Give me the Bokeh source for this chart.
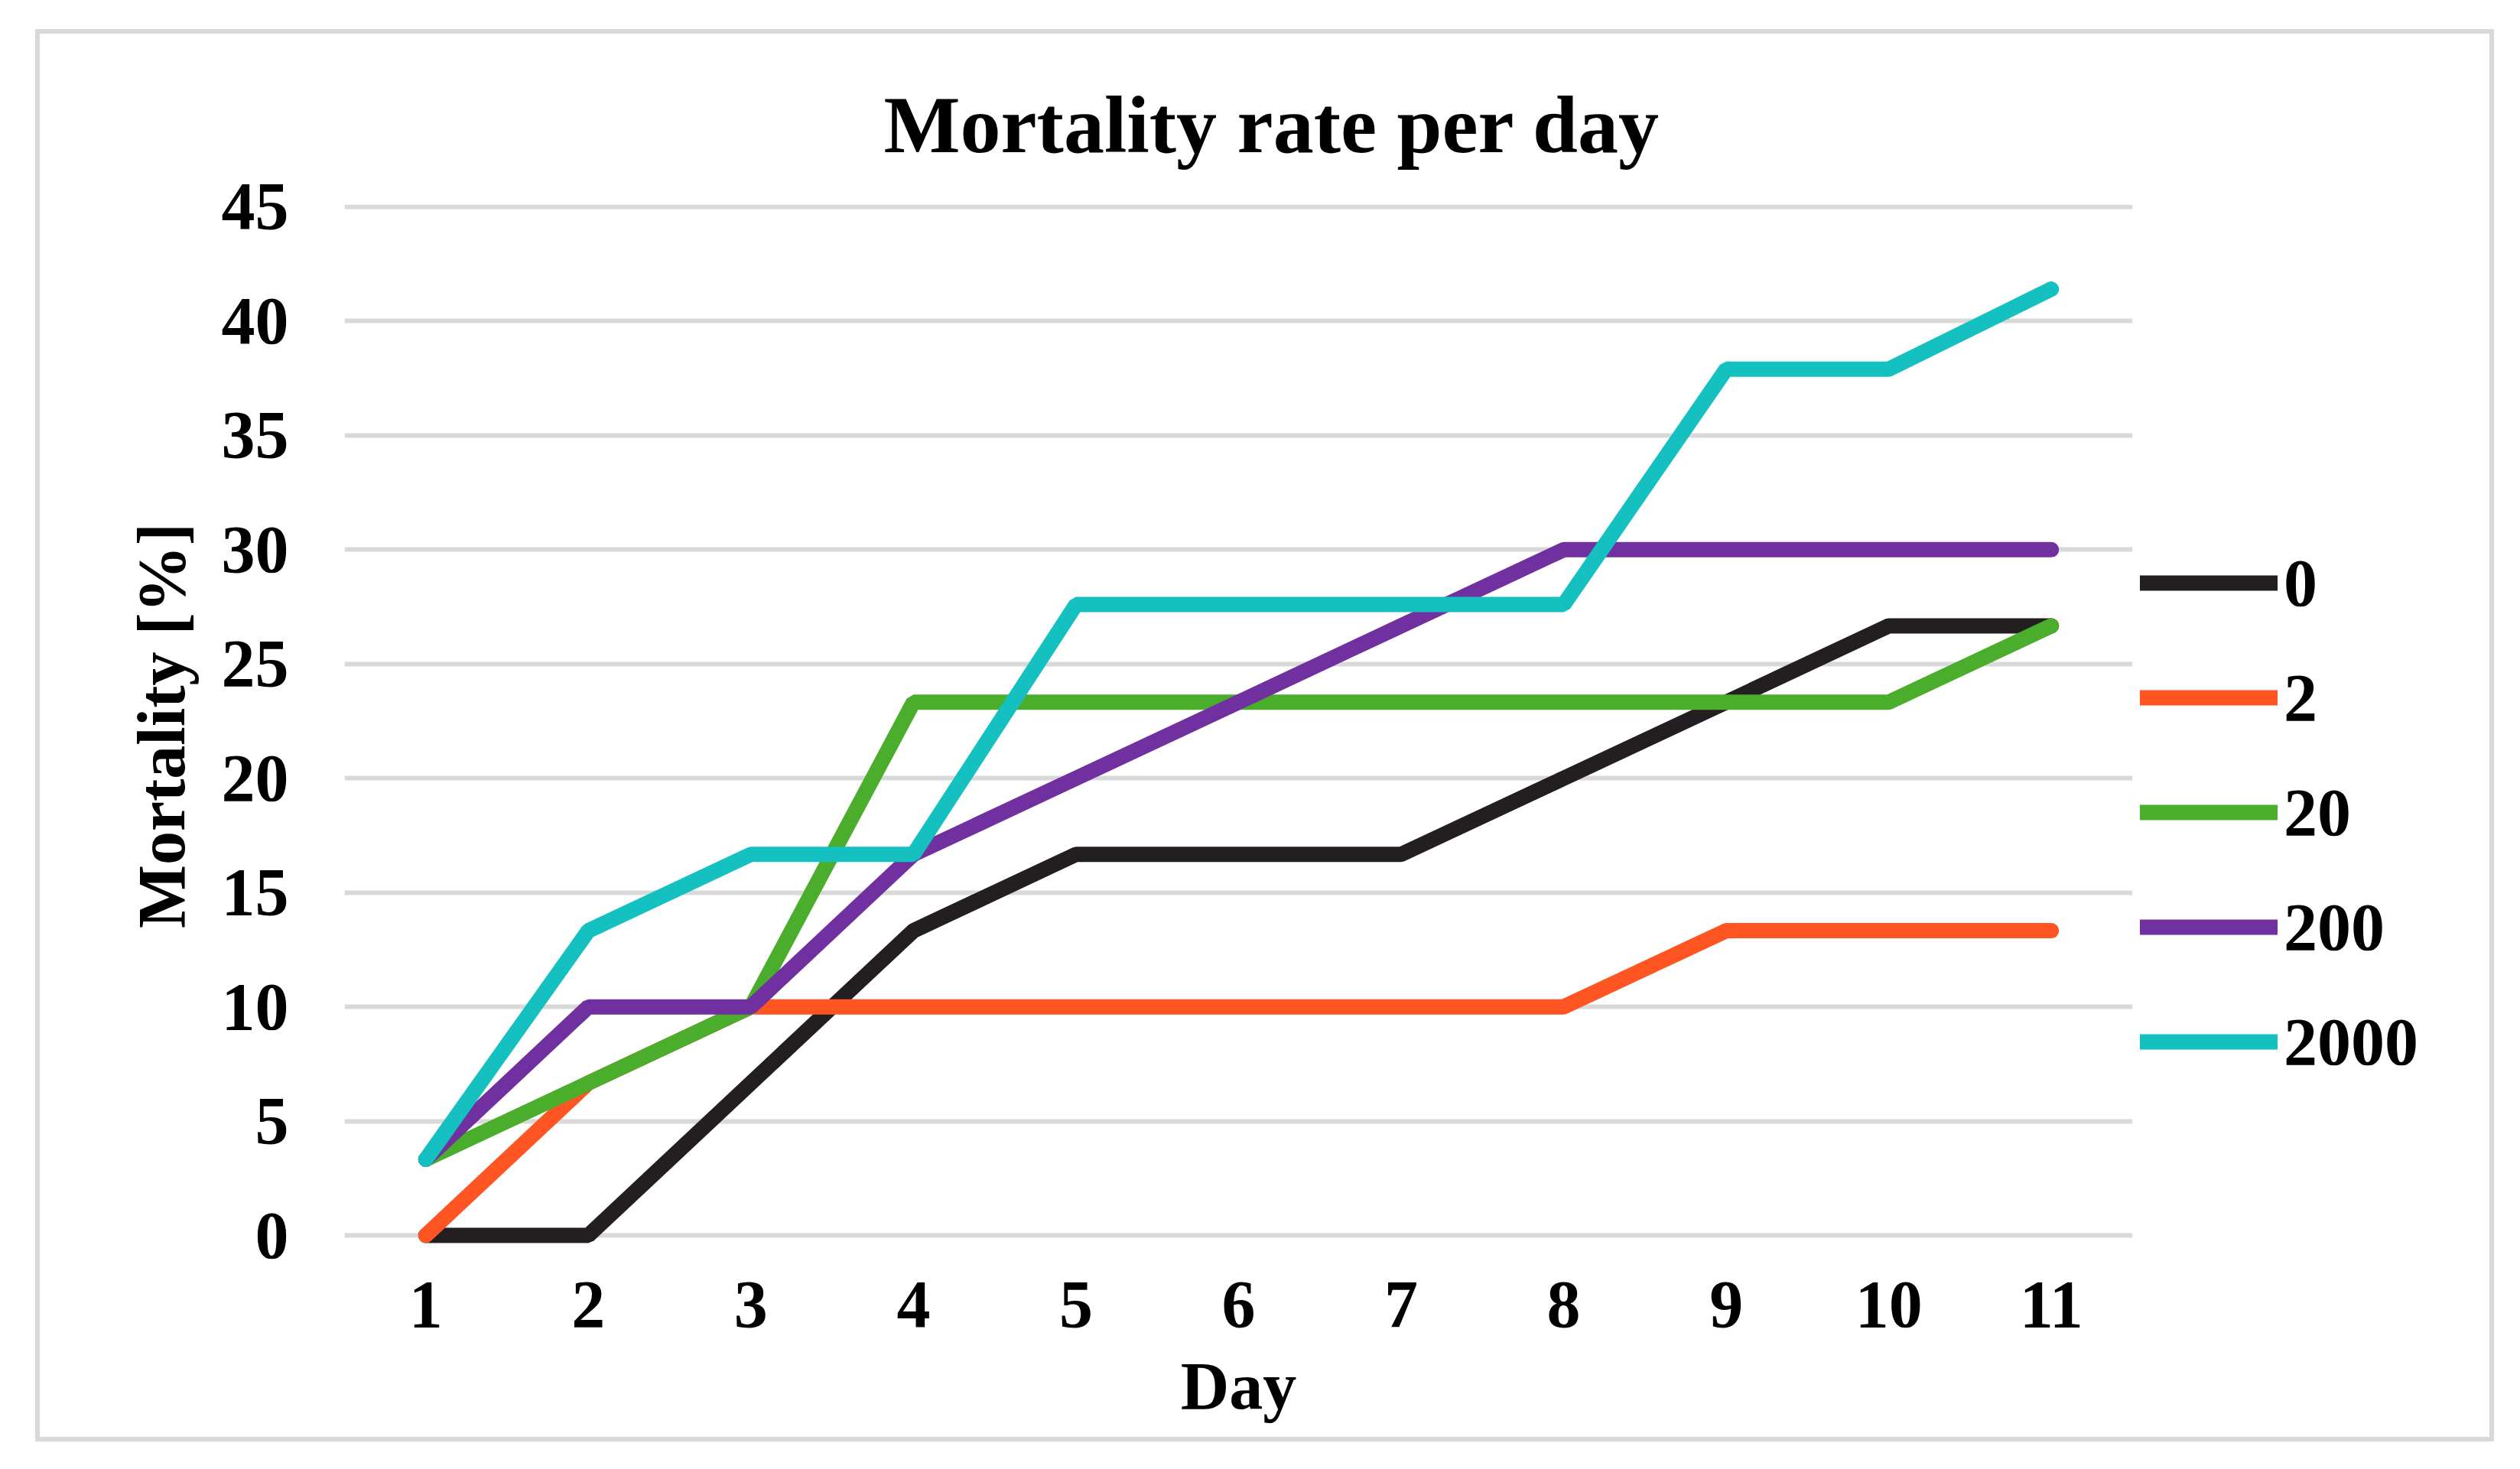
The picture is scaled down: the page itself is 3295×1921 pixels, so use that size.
from bokeh.plotting import figure
from bokeh.layouts import row
from bokeh.models import Range1d, FixedTicker, Legend, LegendItem
from bokeh.embed import file_html
from bokeh.resources import INLINE

# data
days = [1, 2, 3, 4, 5, 6, 7, 8, 9, 10, 11]
series_names = ["0", "2", "20", "200", "2000"]
mort_0 = [0, 0, 6.67, 13.33, 16.67, 16.67, 16.67, 20, 23.33, 26.67, 26.67]
mort_2 = [0, 6.67, 10, 10, 10, 10, 10, 10, 13.33, 13.33, 13.33]
mort_20 = [3.33, 6.67, 10, 23.33, 23.33, 23.33, 23.33, 23.33, 23.33, 23.33, 26.67]
mort_200 = [3.33, 10, 10, 16.67, 20, 23.33, 26.67, 30, 30, 30, 30]
mort_2000 = [3.33, 13.33, 16.67, 16.67, 27.6, 27.6, 27.6, 27.6, 37.9, 37.9, 41.4]
y_ticks = [0, 5, 10, 15, 20, 25, 30, 35, 40, 45]

colors = ["#231f20", "#ff5522", "#4aad2c", "#7030a0", "#14c0c0"]
FONT = "Liberation Serif"
LW = 20
series = [mort_0, mort_2, mort_20, mort_200, mort_2000]

p = figure(width=2746, height=1835, output_backend="svg", toolbar_location=None,
           x_range=Range1d(0.5, 11.5), y_range=Range1d(-0.5, 45.1),
           min_border_left=398, min_border_right=10,
           min_border_top=223, min_border_bottom=249)
p.outline_line_color = None
p.background_fill_color = "white"
p.border_fill_color = "white"

p.title.text = "Mortality rate per day"
p.title.text_font = FONT
p.title.text_font_size = "106px"
p.title.text_font_style = "bold"
p.title.text_color = "black"
p.title.align = "left"
p.title.offset = 705
p.title.standoff = 92

for ys, c in zip(series, colors):
    p.line(days, ys, line_color=c, line_width=LW, line_cap="round")

p.xaxis.ticker = FixedTicker(ticks=days)
p.yaxis.ticker = FixedTicker(ticks=y_ticks)
for ax in (p.xaxis, p.yaxis):
    ax.axis_line_color = None
    ax.major_tick_line_color = None
    ax.minor_tick_line_color = None
    ax.major_label_text_font = FONT
    ax.major_label_text_font_size = "88px"
    ax.major_label_text_font_style = "bold"
    ax.major_label_text_color = "black"
    ax.axis_label_text_font = FONT
    ax.axis_label_text_font_size = "88px"
    ax.axis_label_text_font_style = "bold"
    ax.axis_label_text_color = "black"

p.xaxis.axis_label = "Day"
p.xaxis.major_label_standoff = 40
p.xaxis.axis_label_standoff = 26
p.yaxis.axis_label = "Mortality [%]"
p.yaxis.major_label_standoff = 67
p.yaxis.axis_label_standoff = 27

p.xgrid.grid_line_color = None
p.ygrid.grid_line_color = "#d9d9d9"
p.ygrid.grid_line_width = 6

# legend lives in a narrow side figure so the main plot area keeps its width
leg = figure(width=457, height=1835, output_backend="svg", toolbar_location=None,
             x_range=Range1d(0, 1), y_range=Range1d(0, 1),
             x_axis_type=None, y_axis_type=None,
             min_border_left=0, min_border_right=0, min_border_top=0, min_border_bottom=0)
leg.outline_line_color = None
leg.background_fill_color = "white"
leg.border_fill_color = "white"
leg.grid.visible = False

items = []
for name, ys, c in zip(series_names, series, colors):
    # hidden copy of each series, only used to draw the legend swatch
    r = leg.line(days, ys, line_color=c, line_width=LW, line_cap="round", visible=False)
    items.append(LegendItem(label=name, renderers=[r]))

legend = Legend(items=items, location=(0, 213))
legend.border_line_color = None
legend.background_fill_alpha = 0
legend.padding = 0
legend.margin = 0
legend.spacing = 40
legend.glyph_width = 180
legend.glyph_height = 110
legend.label_height = 110
legend.label_standoff = 8
legend.label_text_font = FONT
legend.label_text_font_size = "88px"
legend.label_text_font_style = "bold"
legend.label_text_color = "black"
legend.label_text_baseline = "middle"
leg.add_layout(legend, "center")

layout = row(p, leg)
layout.margin = (38, 0, 0, 46)
layout.styles = {"border": "6px solid #d9d9d9"}

open("out.html", "w").write(file_html(layout, INLINE))
